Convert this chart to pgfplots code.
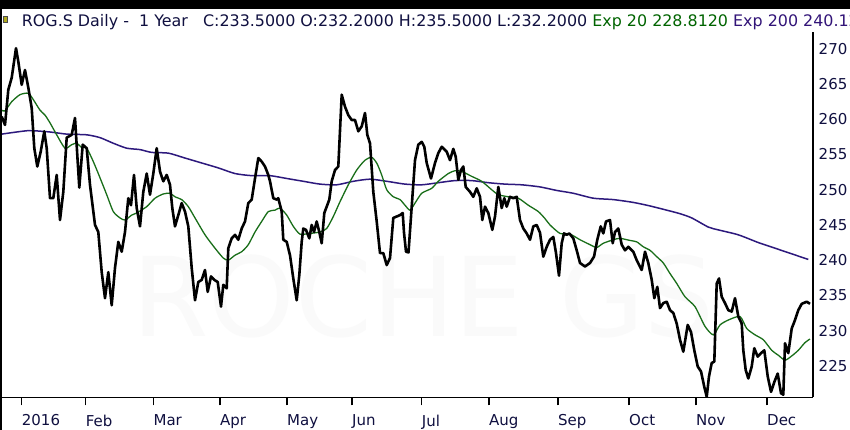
\documentclass[border=0pt]{standalone}
\usepackage{pgfplots}
\pgfplotsset{compat=1.18}
\usepackage{fontspec}
\setmainfont{DejaVu Sans}
\definecolor{navy}{RGB}{16,16,64}
\definecolor{tgreen}{RGB}{0,100,0}
\definecolor{tpurple}{RGB}{50,20,120}
\definecolor{emaA}{RGB}{25,110,25}
\definecolor{emaB}{RGB}{45,25,125}
\definecolor{icon}{RGB}{176,170,30}
\begin{document}
\begin{tikzpicture}[x=1pt,y=1pt]
\path[use as bounding box] (0,0) rectangle (850,430);
\fill[white] (0,0) rectangle (850,430);
\node[anchor=base west, inner sep=0pt, text=black!2, font=\fontsize{110}{110}\selectfont] at (132,93) {ROCHE GS};
\begin{axis}[
  at={(2pt,32.5pt)}, anchor=south west,
  scale only axis, width=811pt, height=365.5pt,
  xmin=2, xmax=813, ymin=220.5, ymax=272.4,
  axis x line*=bottom, axis y line*=right,
  axis line style={line width=1.8pt, black},
  xtick={21.7,85.6,153.4,220,287,352,421.7,489,558,629,696,767},
  xticklabels={2016,Feb,Mar,Apr,May,Jun,Jul,Aug,Sep,Oct,Nov,Dec},
  ytick={225,230,...,270},
  tick align=outside,
  major tick length=8pt,
  x tick style={line width=1.5pt, black},
  y tick style={draw=none},
  ticklabel style={font=\fontsize{15}{18}\selectfont, text=navy},
  xticklabel style={anchor=north west, inner sep=0pt, yshift=-9pt},
  yticklabel style={anchor=west, inner sep=0pt, xshift=-2.5pt},
  /pgf/number format/assume math mode=true,
]
\addplot[emaB, line width=1.5pt, smooth, tension=0.4] coordinates {
(1.7,257.9)(16.7,258.2)(30,258.4)(50,258.2)(66.7,257.9)(86.7,257.8)(100,257.4)(113.3,256.6)(126.7,255.9)(140,255.7)(151.7,255.3)(168.3,255.2)(185,254.5)(201.7,253.8)(218.3,253.1)(235,252.3)(251.7,252.0)(270,252.0)(286.7,251.6)(303.3,251.2)(320,250.8)(336.7,250.7)(353.3,251.2)(370,251.5)(386.7,251.2)(405,250.8)(421.7,250.7)(438.3,251.0)(455,251.3)(471.7,251.3)(488.3,251.0)(505,250.8)(521.7,250.7)(540,250.4)(556.7,249.9)(573.3,249.5)(593.3,248.8)(613.3,248.6)(633.3,248.2)(650,247.7)(666.7,247.1)(680,246.6)(691.7,246.0)(708.3,244.7)(718.3,244.3)(738.3,243.6)(758.3,242.5)(775,241.7)(791.7,240.9)(808.3,240.1)
};
\addplot[emaA, line width=1.3pt, smooth, tension=0.4] coordinates {
(1.7,261.3)(5,261.2)(11.7,262.5)(20,263.5)(28.3,263.7)(33.3,262.8)(40,261.3)(45,260.6)(50,259.5)(56.7,257.8)(65,255.9)(71.7,256.4)(76.7,256.6)(81.7,256.0)(86.7,255.9)(93.3,254.0)(100,251.7)(106.7,249.3)(113.3,246.9)(120,246.0)(125,245.7)(131.7,246.4)(136.7,246.7)(146.7,247.6)(155,248.8)(163.3,249.4)(170,249.5)(175,249.0)(181.7,248.6)(188.3,247.6)(195,246.0)(205,243.6)(215,241.7)(223.3,240.3)(228.3,240.0)(235,240.7)(241.7,241.2)(248.3,242.2)(255,244.0)(261.7,245.5)(268.3,246.9)(275,247.1)(280,247.4)(286.7,246.4)(293.3,244.8)(300,243.7)(310,243.8)(320,244.0)(326.7,244.5)(333.3,246.2)(340,248.3)(348.3,250.7)(356.7,252.8)(365,254.2)(371.7,254.6)(376.7,253.8)(381.7,252.1)(386.7,250.0)(393.3,249.0)(400,248.6)(405,247.8)(410,247.1)(415,248.1)(421.7,249.5)(431.7,250.2)(438.3,251.2)(448.3,252.3)(455,252.7)(461.7,252.6)(471.7,251.9)(481.7,251.2)(491.7,250.0)(498.3,249.3)(508.3,249.0)(518.3,248.8)(528.3,247.8)(538.3,246.9)(545,245.9)(550,245.0)(560,243.8)(570,243.7)(580,242.9)(590,242.2)(596.7,241.8)(603.3,242.4)(613.3,242.9)(620,243.1)(630,242.8)(636.7,242.6)(643.3,241.9)(650,241.4)(656.7,240.5)(663.3,239.6)(670,238.1)(676.7,236.7)(685,234.8)(695,233.4)(705,230.6)(713.3,229.4)(720,230.8)(728.3,231.5)(740,232.0)(746.7,230.3)(755,229.4)(763.3,228.7)(771.7,227.2)(778.3,226.5)(785,225.8)(791.7,226.4)(798.3,227.2)(805,228.3)(810,228.8)
};
\addplot[black, line width=2.6pt, line join=round] coordinates {
(1.7,260.4)(5,259.2)(8.3,264.2)(11.7,265.9)(16,270.1)(18.3,268.2)(21.7,264.9)(25,267.0)(28.3,264.5)(31.7,261.6)(34.3,255.9)(37.3,253.3)(40.7,255.4)(44.3,258.3)(46.7,255.9)(50,248.8)(53.3,248.8)(56.7,252.1)(60,245.7)(63.3,249.7)(66.7,257.4)(71.7,257.8)(75,260.2)(79.3,250.3)(82.7,256.4)(86.7,255.9)(90,250.7)(95,245.0)(98.3,244.0)(101.7,238.3)(105,234.6)(108.3,238.3)(111.7,233.6)(115,238.9)(118.3,242.6)(121.7,241.2)(125,244.0)(128.3,248.8)(131,247.8)(134,252.1)(136.7,247.4)(140,244.8)(143.3,249.7)(146.7,252.3)(150,249.3)(153.3,252.3)(156.7,255.9)(160,252.6)(163.3,251.2)(166.7,252.1)(170,250.7)(172.3,247.4)(175,244.8)(178.3,246.4)(181.7,248.1)(185,246.9)(188.3,244.8)(191.7,238.9)(195,234.3)(198.3,236.9)(201.7,237.2)(205,238.6)(207.7,235.5)(211,237.7)(214.3,237.2)(217.7,236.9)(221,233.4)(223.3,236.5)(226.7,236.0)(228.3,241.7)(231.7,243.1)(235,243.6)(238.3,242.9)(241.7,244.5)(245,245.5)(248.3,248.1)(251.7,248.6)(255,251.6)(258.3,254.5)(261.7,254.0)(265,253.3)(268.3,252.1)(270,251.2)(273.3,248.8)(276.7,248.6)(278.3,248.8)(281.7,246.9)(283.3,242.9)(286.7,242.6)(290,240.7)(293.3,237.4)(296.7,234.3)(299.3,237.9)(301.7,242.6)(303.3,244.5)(306,244.3)(309.3,243.1)(311.7,245.0)(314,244.0)(316.7,245.5)(319.3,244.0)(321.7,242.4)(324.3,246.7)(326.7,247.6)(329.3,248.6)(331.7,251.2)(335,252.8)(338.3,253.3)(341.7,263.5)(345,261.8)(348.3,260.6)(351.7,259.9)(355,259.9)(358.3,258.3)(361.7,259.0)(365,260.9)(367.3,257.8)(370,256.6)(373.3,249.7)(376.7,245.5)(380,241.0)(383.3,241.0)(386.7,239.3)(390,240.3)(393.3,246.0)(396.7,246.2)(400,246.4)(402.7,246.7)(404,243.9)(406,241.2)(408.5,241.1)(411.7,247.6)(415,254.2)(418.3,256.4)(421.7,256.8)(424.3,256.1)(426.7,253.8)(431,251.6)(435,253.8)(438.3,255.2)(441.7,256.1)(446.7,255.4)(450,254.2)(453.3,255.8)(455.7,254.7)(458.3,251.4)(461,252.8)(463.3,253.3)(465.7,250.4)(470,249.7)(473.3,249.0)(476.7,250.2)(480,249.0)(482.3,245.7)(485,247.6)(488.3,246.7)(492.3,244.3)(495,246.2)(498.3,250.4)(501.7,247.4)(504.3,248.8)(506.7,247.6)(510,249.0)(513.3,248.8)(516.7,249.0)(520,245.7)(523.3,244.5)(526.7,243.8)(530,242.9)(533.3,244.8)(536.7,245.0)(540,243.9)(543.3,240.5)(546.7,241.9)(550,242.9)(553.3,243.3)(556,241.0)(559,237.8)(561.7,242.4)(564,243.8)(566.7,243.6)(569.3,243.8)(573.3,243.1)(576.7,241.4)(580,239.6)(585,239.1)(590,239.6)(594,240.5)(597.3,242.9)(600.7,244.8)(603.3,243.8)(606,245.5)(610,245.7)(612.7,242.4)(615,244.0)(618.3,244.5)(621.7,242.2)(625,241.4)(628.3,241.9)(633.3,241.2)(636.7,240.0)(641.7,238.6)(645,241.2)(648.3,239.6)(651.7,237.2)(654.3,234.6)(657.3,236.2)(660,233.2)(663.3,233.9)(666.7,234.1)(670,232.9)(673.3,232.5)(676.7,231.0)(680,228.7)(683.3,227.0)(687.7,230.8)(691,229.8)(694.3,227.2)(697.7,224.9)(701,224.2)(704.3,222.0)(706.7,220.6)(709,223.5)(711.7,225.4)(714.3,225.6)(716.7,236.7)(719,237.4)(721.7,234.8)(725,233.9)(728.3,232.9)(731.7,232.7)(735,234.6)(738.3,232.0)(741.7,231.0)(743.3,227.2)(745.7,224.4)(748.3,223.2)(751.7,224.9)(754.3,227.5)(757.7,226.3)(761,226.8)(764.3,227.2)(767.7,223.5)(771,221.3)(774.3,222.7)(777.7,223.9)(781,221.1)(783.3,220.9)(785,228.2)(788.3,226.8)(791.7,230.3)(795,231.5)(798.3,232.9)(801.7,233.8)(806.7,234.1)(810,233.8)
};
\end{axis}
\fill[black] (0,421) rectangle (850,430);
\fill[black] (0,0) rectangle (2.2,421);
\filldraw[fill=icon, draw=black!70, line width=0.6pt] (3.3,407.3) rectangle (7.3,413.3);
\node[anchor=base west, inner sep=0pt, font=\fontsize{15.9}{18}\selectfont] at (21.7,403.3) {\textcolor{navy}{ROG.S Daily -\ \ 1 Year\ \ \ C:233.5000 O:232.2000 H:235.5000 L:232.2000} \textcolor{tgreen}{Exp 20 228.8120} \textcolor{tpurple}{Exp 200 240.1213}};
\end{tikzpicture}
\end{document}
